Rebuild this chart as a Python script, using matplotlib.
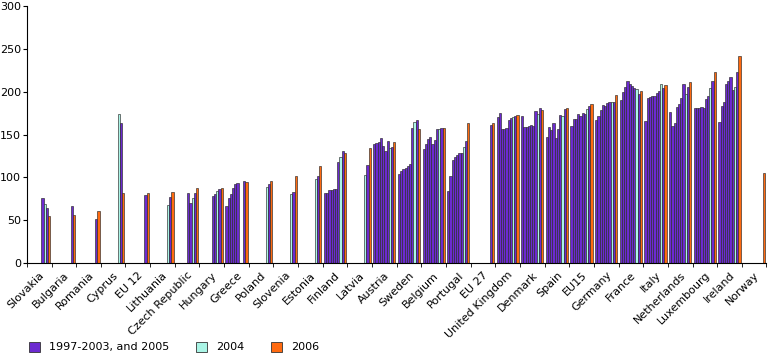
import numpy as np
import matplotlib
matplotlib.use("Agg")
import matplotlib.pyplot as plt
from matplotlib.patches import Patch

N = np.nan

countries = ["Slovakia", "Bulgaria", "Romania", "Cyprus", "EU 12", "Lithuania",
             "Czech Republic", "Hungary", "Greece", "Poland", "Slovenia", "Estonia",
             "Finland", "Latvia", "Austria", "Sweden", "Belgium", "Portugal", "EU 27",
             "United Kingdom", "Denmark", "Spain", "EU15", "Germany", "France", "Italy",
             "Netherlands", "Luxembourg", "Ireland", "Norway"]

years = list(range(1997, 2007))

# one list per year, same order as countries
y1997 = [N, N, N, N, N, N, N, N, 67, N, N, N, 81.5, N, 139, 104, 133, 84, N,
         171, 172, 147, 160, 167, 190.5, 166, 176.5, 181.5, 164.5, N]
y1998 = [N, N, N, N, N, N, N, N, 76, N, N, N, 82, N, 140, 108, 139, 102, N,
         175, 159, 158.5, 168.5, 172, 199.5, 192.5, 160.5, 181.5, 183.5, N]
y1999 = [N, N, N, N, N, N, N, N, 81, N, N, N, 85, N, 141, 110, 145, 120.5, N,
         157, 159, 155.5, 168.5, 179, 205, 194, 164, 181.5, 188, N]
y2000 = [N, N, N, N, N, N, N, N, 88, N, N, N, 85.5, N, 146, 111, 147, 123.5, N,
         156, 159.5, 164, 174, 184, 213, 194.5, 182, 182.5, 209, N]
y2001 = [N, N, N, N, N, N, N, N, 92, N, N, N, 87, N, 137, 113.5, 139, 126.5, N,
         157.5, 161.5, 146, 172, 183, 209.5, 195.5, 186, 180.5, 213, N]
y2002 = [N, N, N, N, N, N, 82, 78, 94, N, N, N, 86.5, N, 131, 116, 144, 128, N,
         167, 159.5, 156.5, 175, 187, 207, 198.5, 192.5, 191.5, 217, N]
y2003 = [76, N, N, N, N, N, 70, 81, N, N, N, N, 118, N, 142, 158, 156, 129, N,
         169, 177, 173, 174.5, 188, 204.5, 200.5, 209, 194.5, 201.5, N]
y2004 = [69, N, N, 174, N, 68, 76, 84, N, 89, 81, 98, 123.5, 103, 134.5, 165, 157, 135, N,
         171, 174, 171.5, 179.5, 188, 203.5, 209, 197.5, 204.5, 205.5, N]
y2005 = [64, 67, 52, 163, 79, 77, 82, 87, 95.5, 92, 83.5, 102, 131, 115, 135, 167, 158, 142, 161,
         172, 181.5, 180, 183, 187.5, 197.5, 204.5, 205.5, 213, 223, N]
y2006 = [55, 56, 61, 82, 82, 83, 88, 88, 95, 95.5, 102, 113.5, 128, 134.5, 141, 156, 158, 164, 164,
         173, 179, 181.5, 186, 196.5, 200.5, 207.5, 211.5, 222.5, 242, 105]

series = [y1997, y1998, y1999, y2000, y2001, y2002, y2003, y2004, y2005, y2006]

purple = "#6c2ad0"
cyan = "#aaf5e6"
orange = "#ff6a10"

fig = plt.figure(figsize=(7.68, 3.57), dpi=100)
ax = fig.add_axes([0.035, 0.263, 0.963, 0.72])

x = np.arange(len(countries))
w = 0.09
for j, (yr, vals) in enumerate(zip(years, series)):
    col = cyan if yr == 2004 else orange if yr == 2006 else purple
    ax.bar(x + (j - 4.5) * w, vals, w, color=col, edgecolor="#2a2a2a", linewidth=0.45)

ax.set_xlim(-0.5, len(countries) - 0.5)
ax.set_ylim(0, 300)
ax.set_yticks(range(0, 301, 50))
ax.tick_params(axis="y", labelsize=8, length=3, pad=1)

ax.set_xticks(x)
ax.set_xticklabels(countries, rotation=45, ha="right", rotation_mode="anchor", fontsize=8)
ax.set_xticks(np.arange(-0.5, len(countries)), minor=True)
ax.tick_params(axis="x", which="major", length=0, pad=5)
ax.tick_params(axis="x", which="minor", length=3)

for s in ["top", "right"]:
    ax.spines[s].set_visible(False)

handles = [Patch(facecolor=purple, edgecolor="#333333", linewidth=0.6),
           Patch(facecolor=cyan, edgecolor="#333333", linewidth=0.6),
           Patch(facecolor=orange, edgecolor="#333333", linewidth=0.6)]
fig.legend(handles, ["1997-2003, and 2005", "2004", "2006"], loc="lower left",
           bbox_to_anchor=(0.025, -0.015), ncol=3, frameon=False, fontsize=8,
           handlelength=1, handleheight=1, columnspacing=2.4, handletextpad=0.8)

fig.savefig("out.png", dpi=100)
